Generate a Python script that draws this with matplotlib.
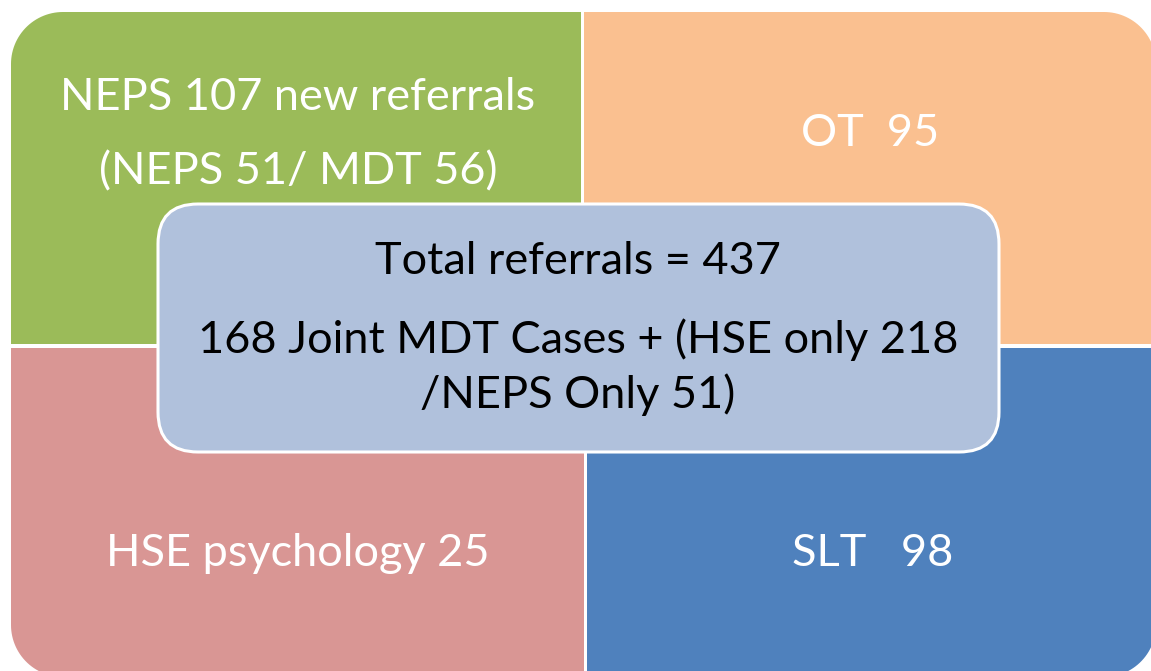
import numpy as np
import matplotlib
matplotlib.use("Agg")
import matplotlib.pyplot as plt
from matplotlib.patches import Polygon, FancyBboxPatch

# ---- data ----
quadrant_labels = ["NEPS 107 new referrals\n(NEPS 51/ MDT 56)", "OT  95", "HSE psychology 25", "SLT   98"]
quadrant_colors = ["#9BBB59", "#FAC090", "#D99694", "#4F81BD"]
center_lines = ["Total referrals = 437", "168 Joint MDT Cases + (HSE only 218", "/NEPS Only 51)"]
center_color = "#B0C1DC"

W, H = 1151, 671
fig = plt.figure(figsize=(W / 100, H / 100), dpi=100)
ax = fig.add_axes([0, 0, 1, 1])
ax.set_xlim(0, W)
ax.set_ylim(H, 0)
ax.axis("off")

FONT = "Lato"
FS = 32.5


def one_round_rect(x0, y0, x1, y1, r, corner):
    # corner: 'tl','tr','bl','br' (y downward)
    t = np.linspace(0, np.pi / 2, 30)
    if corner == "tl":
        cx, cy = x0 + r, y0 + r
        arc = np.c_[cx - r * np.cos(t), cy - r * np.sin(t)]
        pts = np.vstack([[[x0, y1]], arc, [[x1, y0], [x1, y1]]])
    elif corner == "tr":
        cx, cy = x1 - r, y0 + r
        arc = np.c_[cx + r * np.sin(t), cy - r * np.cos(t)]
        pts = np.vstack([[[x0, y0]], arc, [[x1, y1], [x0, y1]]])
    elif corner == "bl":
        cx, cy = x0 + r, y1 - r
        arc = np.c_[cx - r * np.sin(t), cy + r * np.cos(t)]
        pts = np.vstack([[[x0, y0], [x1, y0], [x1, y1]], arc])
    else:
        cx, cy = x1 - r, y1 - r
        arc = np.c_[cx + r * np.cos(t), cy + r * np.sin(t)]
        pts = np.vstack([[[x0, y0], [x1, y0]], arc, [[x0, y1]]])
    return pts


R = 52
quads = [
    (11, 12, 581, 344, "tl"),
    (584, 12, 1156, 344, "tr"),
    (11, 348, 584, 677, "bl"),
    (587, 348, 1156, 677, "br"),
]
for (x0, y0, x1, y1, c), col in zip(quads, quadrant_colors):
    ax.add_patch(Polygon(one_round_rect(x0, y0, x1, y1, R, c), closed=True,
                         facecolor=col, edgecolor="none"))

# quadrant texts
ax.text(298, 97, quadrant_labels[0].split("\n")[0], ha="center", va="center",
        color="white", fontsize=FS, family=FONT)
ax.text(298, 172, quadrant_labels[0].split("\n")[1], ha="center", va="center",
        color="white", fontsize=FS, family=FONT)
ax.text(870, 133, quadrant_labels[1], ha="center", va="center",
        color="white", fontsize=FS, family=FONT)
ax.text(298, 553, quadrant_labels[2], ha="center", va="center",
        color="white", fontsize=FS, family=FONT)
ax.text(873, 553, quadrant_labels[3], ha="center", va="center",
        color="white", fontsize=FS, family=FONT)

# center box
cb = FancyBboxPatch((158, 204), 841, 248, boxstyle="round,pad=0,rounding_size=40",
                    facecolor=center_color, edgecolor="white", linewidth=2.2)
ax.add_patch(cb)
for ypos, line in zip([262, 340, 395], center_lines):
    ax.text(578, ypos, line, ha="center", va="center", color="black",
            fontsize=FS, family=FONT)

fig.savefig("out.png", dpi=100)
